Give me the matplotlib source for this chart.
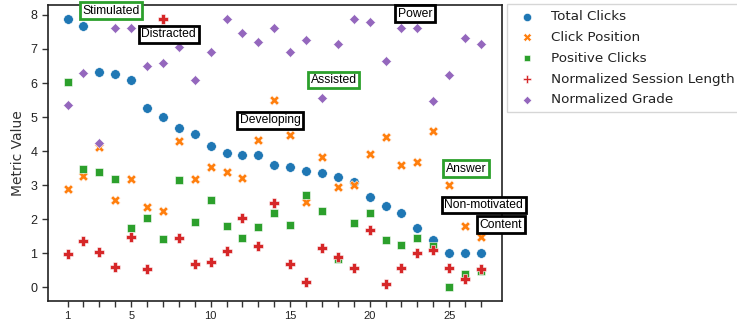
import matplotlib
matplotlib.use("Agg")
import matplotlib.pyplot as plt
import numpy as np

# session index 1..27
sessions = np.arange(1, 28)

total_clicks = [7.87, 7.68, 6.32, 6.26, 6.09, 5.28, 4.99, 4.68, 4.51, 4.15,
                3.94, 3.90, 3.89, 3.59, 3.53, 3.43, 3.37, 3.23, 3.10, 2.66,
                2.40, 2.17, 1.74, 1.39, 1.0, 1.0, 1.0]
click_position = [2.88, 3.27, 4.11, 2.56, 3.17, 2.36, 2.25, 4.31, 3.19, 3.54,
                  3.39, 3.20, 4.33, 5.50, 4.47, 2.50, 3.82, 2.94, 3.01, 3.92,
                  4.41, 3.58, 3.68, 4.60, 3.00, 1.80, 1.49]
positive_clicks = [6.03, 3.48, 3.40, 3.17, 1.74, 2.04, 1.41, 3.15, 1.92, 2.56,
                   1.80, 1.45, 1.77, 2.19, 1.83, 2.71, 2.25, 0.82, 1.90, 2.17,
                   1.39, 1.24, 1.44, 1.21, 0.0, 0.39, 0.49]
session_length = [0.98, 1.37, 1.03, 0.60, 1.48, 0.53, 7.88, 1.46, 0.68, 0.74,
                  1.07, 2.03, 1.22, 2.47, 0.68, 0.16, 1.15, 0.90, 0.58, 1.68,
                  0.10, 0.58, 1.00, 1.10, 0.58, 0.24, 0.53]
grade = [5.35, 6.30, 4.25, 7.61, 7.61, 6.51, 6.58, 7.06, 6.09, 6.92,
         7.88, 7.48, 7.20, 7.61, 6.92, 7.27, 5.55, 7.14, 7.88, 7.80,
         6.65, 7.61, 7.61, 5.48, 6.24, 7.33, 7.14]

series = [
    ("Total Clicks", total_clicks, "o", "#1f77b4", 48),
    ("Click Position", click_position, "X", "#ff7f0e", 48),
    ("Positive Clicks", positive_clicks, "s", "#2ca02c", 30),
    ("Normalized Session Length", session_length, "P", "#d62728", 55),
    ("Normalized Grade", grade, "D", "#9467bd", 26),
]

# (label, x, y, edge colour)
labels = [
    ("Stimulated", 3.73, 8.12, "#2ca02c"),
    ("Distracted", 7.37, 7.43, "black"),
    ("Developing", 13.74, 4.91, "black"),
    ("Assisted", 17.75, 6.09, "#2ca02c"),
    ("Power", 22.85, 8.03, "black"),
    ("Answer", 26.06, 3.48, "#2ca02c"),
    ("Non-motivated", 27.18, 2.42, "black"),
    ("Content", 28.26, 1.84, "black"),
]

fig = plt.figure(figsize=(7.37, 3.29), dpi=100)
ax = fig.add_axes([0.0647, 0.0851, 0.616, 0.8997])

for name, vals, m, c, s in series:
    ax.scatter(sessions, vals, marker=m, color=c, s=s, edgecolors="white",
               linewidths=0.4, label=name, zorder=3)

for txt, x, y, ec in labels:
    ax.text(x, y, txt, ha="center", va="center", fontsize=8.7,
            family="Liberation Sans", clip_on=False, zorder=5,
            bbox=dict(boxstyle="square,pad=0.2", fc="white", ec=ec, lw=2))

ax.set_xlim(-0.25, 28.3)
ax.set_ylim(-0.4, 8.29)
ax.set_xticks(sessions)
ax.set_xticklabels([str(i) if i in (1, 5, 10, 15, 20, 25) else "" for i in sessions])
ax.set_yticks(range(0, 9))
ax.tick_params(axis="both", length=4, width=1, color="#333333", labelsize=9,
               labelcolor="#222222")
for lbl in ax.get_xticklabels() + ax.get_yticklabels():
    lbl.set_family("Liberation Sans")
ax.tick_params(axis="x", labelsize=8)
for sp in ax.spines.values():
    sp.set_color("#222222")
    sp.set_linewidth(1.2)

ax.set_ylabel("Metric Value", fontsize=10, color="#333333")

leg = ax.legend(loc="upper left", bbox_to_anchor=(1.012, 1.003), fontsize=9.7,
                frameon=True, borderaxespad=0, handletextpad=0.8,
                labelspacing=0.58, borderpad=0.45, markerscale=0.85)
leg.get_frame().set_edgecolor("#cccccc")
leg.get_frame().set_boxstyle("square", pad=0)
for t in leg.get_texts():
    t.set_color("#222222")

fig.savefig("out.png", dpi=100)
